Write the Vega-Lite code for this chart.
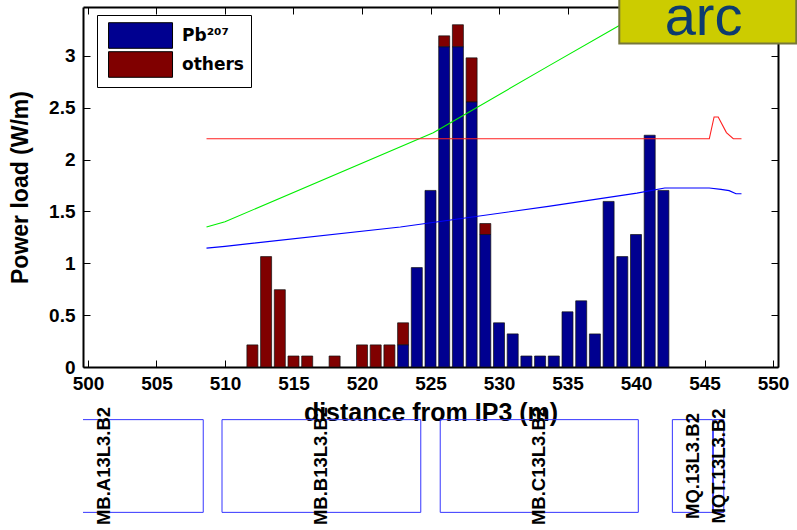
{
  "$schema": "https://vega.github.io/schema/vega-lite/v6.json",
  "padding": {"left": 9, "top": -10, "right": 0, "bottom": 0},
  "background": "white",
  "config": {
    "view": {"stroke": null},
    "font": "Liberation Sans",
    "axis": {
      "labelFont": "Liberation Sans", "labelFontWeight": "bold", "labelFontSize": 19, "labelColor": "black",
      "titleFont": "Liberation Sans", "titleFontWeight": "bold", "titleColor": "black",
      "domainColor": "black", "domainWidth": 2, "tickColor": "black", "tickWidth": 1, "tickSize": -7,
      "grid": false
    }
  },
  "datasets": {
    "bars": [
      {"d": 512, "species": "others", "v": 0.213},
      {"d": 513, "species": "others", "v": 1.064},
      {"d": 514, "species": "others", "v": 0.745},
      {"d": 515, "species": "others", "v": 0.106},
      {"d": 516, "species": "others", "v": 0.106},
      {"d": 518, "species": "others", "v": 0.106},
      {"d": 520, "species": "others", "v": 0.213},
      {"d": 521, "species": "others", "v": 0.213},
      {"d": 522, "species": "others", "v": 0.213},
      {"d": 523, "species": "others", "v": 0.213},
      {"d": 526, "species": "others", "v": 0.106},
      {"d": 527, "species": "others", "v": 0.213},
      {"d": 528, "species": "others", "v": 0.426},
      {"d": 529, "species": "others", "v": 0.106},
      {"d": 523, "species": "Pb²⁰⁷", "v": 0.213},
      {"d": 524, "species": "Pb²⁰⁷", "v": 0.958},
      {"d": 525, "species": "Pb²⁰⁷", "v": 1.702},
      {"d": 526, "species": "Pb²⁰⁷", "v": 3.086},
      {"d": 527, "species": "Pb²⁰⁷", "v": 3.086},
      {"d": 528, "species": "Pb²⁰⁷", "v": 2.554},
      {"d": 529, "species": "Pb²⁰⁷", "v": 1.277},
      {"d": 530, "species": "Pb²⁰⁷", "v": 0.426},
      {"d": 531, "species": "Pb²⁰⁷", "v": 0.319},
      {"d": 532, "species": "Pb²⁰⁷", "v": 0.106},
      {"d": 533, "species": "Pb²⁰⁷", "v": 0.106},
      {"d": 534, "species": "Pb²⁰⁷", "v": 0.106},
      {"d": 535, "species": "Pb²⁰⁷", "v": 0.532},
      {"d": 536, "species": "Pb²⁰⁷", "v": 0.638},
      {"d": 537, "species": "Pb²⁰⁷", "v": 0.319},
      {"d": 538, "species": "Pb²⁰⁷", "v": 1.596},
      {"d": 539, "species": "Pb²⁰⁷", "v": 1.064},
      {"d": 540, "species": "Pb²⁰⁷", "v": 1.277},
      {"d": 541, "species": "Pb²⁰⁷", "v": 2.234},
      {"d": 542, "species": "Pb²⁰⁷", "v": 1.702}
    ],
    "lines": [
      {"s": "green", "d": 508.65, "v": 1.349},
      {"s": "green", "d": 510.0, "v": 1.40},
      {"s": "green", "d": 525.2, "v": 2.258},
      {"s": "green", "d": 533.6, "v": 2.90},
      {"s": "green", "d": 538.75, "v": 3.29},
      {"s": "green", "d": 541.0, "v": 3.46},
      {"s": "red", "d": 508.65, "v": 2.2},
      {"s": "red", "d": 545.35, "v": 2.2},
      {"s": "red", "d": 545.7, "v": 2.41},
      {"s": "red", "d": 546.0, "v": 2.41},
      {"s": "red", "d": 546.6, "v": 2.26},
      {"s": "red", "d": 547.1, "v": 2.2},
      {"s": "red", "d": 547.7, "v": 2.2},
      {"s": "blue", "d": 508.65, "v": 1.146},
      {"s": "blue", "d": 510.0, "v": 1.163},
      {"s": "blue", "d": 522.8, "v": 1.35},
      {"s": "blue", "d": 533.6, "v": 1.548},
      {"s": "blue", "d": 540.07, "v": 1.676},
      {"s": "blue", "d": 542.1, "v": 1.725},
      {"s": "blue", "d": 545.35, "v": 1.725},
      {"s": "blue", "d": 546.2, "v": 1.712},
      {"s": "blue", "d": 546.8, "v": 1.70},
      {"s": "blue", "d": 547.3, "v": 1.67},
      {"s": "blue", "d": 547.7, "v": 1.67}
    ],
    "tag": [
      {"x1": 538.78, "x2": 551.7, "y1": 3.118, "y2": 3.6, "tx": 544.93, "ty": 3.2, "label": "arc"}
    ],
    "magnets": [
      {"name": "MB.A13L3.B2", "start": 494.35, "end": 508.65},
      {"name": "MB.B13L3.B2", "start": 510.0, "end": 524.3},
      {"name": "MB.C13L3.B2", "start": 525.7, "end": 539.95},
      {"name": "MQ.13L3.B2", "start": 542.4, "end": 545.3},
      {"name": "MQT.13L3.B2", "start": 545.35, "end": 546.1}
    ]
  },
  "bounds": "flush",
  "spacing": 48,
  "vconcat": [
    {
      "width": 695,
      "height": 360,
      "resolve": {"axis": {"x": "independent", "y": "independent"}},
      "layer": [
        {
          "data": {"name": "bars"},
          "mark": {"type": "bar", "size": 11, "stroke": "#111111", "strokeWidth": 0.7},
          "encoding": {
            "x": {"field": "d", "type": "quantitative",
                  "scale": {"domain": [500, 550], "nice": false, "zero": false},
                  "axis": {"orient": "bottom", "values": [500,505,510,515,520,525,530,535,540,545,550],
                           "labelExpr": "'' + datum.value", "labelPadding": 14, "title": "distance from IP3 (m)",
                           "titleFontSize": 25, "titlePadding": 7}},
            "y": {"field": "v", "type": "quantitative", "stack": "zero",
                  "scale": {"domain": [0, 3.47], "nice": false},
                  "axis": {"orient": "left", "values": [0,0.5,1,1.5,2,2.5,3],
                           "labelExpr": "'' + datum.value", "labelPadding": 15, "title": "Power load (W/m)",
                           "titleFontSize": 23, "titlePadding": 16}},
            "color": {"field": "species", "type": "nominal",
                      "scale": {"domain": ["Pb²⁰⁷", "others"], "range": ["#000090", "#800000"]},
                      "legend": {"title": null, "orient": "none", "legendX": 14, "legendY": 8,
                                 "symbolType": "M-0.7,-1H4.3V1H-0.7Z", "symbolSize": 655,
                                 "symbolStrokeColor": "black", "symbolStrokeWidth": 1,
                                 "labelFont": "DejaVu Sans", "labelFontWeight": "bold", "labelFontSize": 17,
                                 "labelColor": "black", "labelOffset": 51, "rowPadding": -2, "padding": 7,
                                 "strokeColor": "black", "fillColor": "white"}},
            "order": {"field": "species", "sort": "ascending"}
          }
        },
        {
          "data": {"name": "lines"},
          "transform": [{"filter": "datum.s == 'green'"}],
          "mark": {"type": "line", "color": "#00ee00", "strokeWidth": 1.1, "clip": true},
          "encoding": {
            "x": {"field": "d", "type": "quantitative",
                  "axis": {"orient": "top", "values": [500,505,510,515,520,525,530,535,540,545,550], "labels": false, "title": null}},
            "y": {"field": "v", "type": "quantitative",
                  "axis": {"orient": "right", "values": [0,0.5,1,1.5,2,2.5,3], "labels": false, "title": null}}
          }
        },
        {
          "data": {"name": "lines"},
          "transform": [{"filter": "datum.s == 'red'"}],
          "mark": {"type": "line", "color": "#ff2020", "strokeWidth": 1.1},
          "encoding": {
            "x": {"field": "d", "type": "quantitative", "axis": null},
            "y": {"field": "v", "type": "quantitative", "axis": null}
          }
        },
        {
          "data": {"name": "lines"},
          "transform": [{"filter": "datum.s == 'blue'"}],
          "mark": {"type": "line", "color": "#0000ff", "strokeWidth": 1.1},
          "encoding": {
            "x": {"field": "d", "type": "quantitative", "axis": null},
            "y": {"field": "v", "type": "quantitative", "axis": null}
          }
        },
        {
          "data": {"name": "tag"},
          "mark": {"type": "rect", "fill": "#cccc00", "stroke": "#77773a", "strokeWidth": 2, "clip": false},
          "encoding": {
            "x": {"field": "x1", "type": "quantitative", "axis": null},
            "x2": {"field": "x2"},
            "y": {"field": "y1", "type": "quantitative", "axis": null},
            "y2": {"field": "y2"}
          }
        },
        {
          "data": {"name": "tag"},
          "mark": {"type": "text", "font": "Liberation Sans", "fontSize": 56, "color": "#0d3b6e",
                   "align": "center", "baseline": "alphabetic", "clip": false},
          "encoding": {
            "x": {"field": "tx", "type": "quantitative", "axis": null},
            "y": {"field": "ty", "type": "quantitative", "axis": null},
            "text": {"field": "label"}
          }
        }
      ]
    },
    {
      "width": 695,
      "height": 102,
      "data": {"name": "magnets"},
      "layer": [
        {
          "mark": {"type": "rect", "filled": false, "stroke": "#3535ff", "strokeWidth": 1, "clip": true},
          "encoding": {
            "x": {"field": "start", "type": "quantitative", "scale": {"domain": [500, 550], "nice": false, "zero": false}, "axis": null},
            "x2": {"field": "end"},
            "y": {"datum": 1, "type": "quantitative", "scale": {"domain": [-1.1, 1.1], "nice": false}, "axis": null},
            "y2": {"datum": -1}
          }
        },
        {
          "transform": [{"calculate": "(datum.start + datum.end) / 2", "as": "mid"}],
          "mark": {"type": "text", "angle": 270, "align": "center", "baseline": "middle",
                   "font": "Liberation Sans", "fontWeight": "bold", "fontSize": 18.5, "color": "black", "clip": false},
          "encoding": {
            "x": {"field": "mid", "type": "quantitative", "axis": null},
            "y": {"datum": 0, "type": "quantitative", "axis": null},
            "text": {"field": "name"}
          }
        }
      ]
    }
  ]
}
